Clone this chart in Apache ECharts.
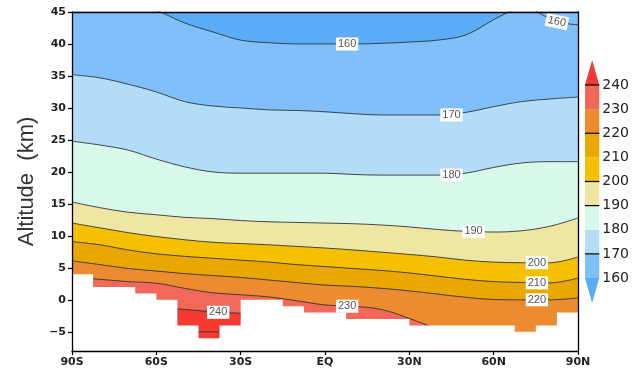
<!DOCTYPE html>
<html><head><meta charset="utf-8">
<script src="https://cdn.jsdelivr.net/npm/echarts@6/dist/echarts.min.js"></script>
<style>html,body{margin:0;padding:0;background:#fff}#c{width:632px;height:369px}</style>
</head><body><div id="c"></div>
<script>
// ---- data ----
const lats = [-90,-80,-70,-60,-50,-40,-30,-20,-10,0,10,20,30,40,50,60,70,80,90];
const c160 = [49,48.5,47,45.3,43.3,41.9,40.6,40.2,40.0,40.0,40.0,40.1,40.3,40.6,41.4,43.8,46,48,49];
const c170 = [35.2,34.7,33.7,32.5,31.0,30.3,30.0,29.7,29.6,29.4,29.1,28.9,28.9,28.9,29.3,30.2,31.0,31.4,31.7];
const c180 = [24.8,24.2,23.4,22.0,20.8,20.0,19.8,19.8,19.8,19.8,19.6,19.5,19.5,19.5,19.8,20.7,21.4,21.6,21.6];
const c190 = [15.3,14.4,13.7,13.3,12.9,12.7,12.4,12.2,12.1,12.0,11.9,11.7,11.4,11.0,10.7,10.6,10.8,11.5,12.8];
const c200 = [12.0,11.25,10.5,9.9,9.4,9.0,8.8,8.6,8.35,8.1,7.8,7.45,7.1,6.7,6.2,5.9,5.8,5.8,6.7];
const c210 = [9.1,8.6,7.8,7.2,6.8,6.5,6.2,5.9,5.5,5.2,4.9,4.6,4.2,3.7,3.2,2.85,2.7,2.65,3.4];
const c220 = [6.1,5.5,4.9,4.5,4.1,3.8,3.5,3.1,2.7,2.3,2.1,1.8,1.4,0.9,0.4,0.05,0,0,0.3];
const c230 = [3.5,3.2,2.85,2.6,1.8,1.1,0.8,0.45,-0.15,-0.8,-1.0,-1.5,-2.9,-4.6,-6.5,-8,-9,-9,-9];
// second (north-polar) 160 K segment
const c160bLat = [74,82.5,90];
const c160b = [45.4,43.5,43.0];
// 240 K contour (southern pocket)
const c240Lat = [-90,-54,-52.5,-38,-30,-28,90];
const c240 = [-12,-12,-1.4,-1.95,-2.1,-12,-12];
// 250 K segment
const c250Lat = [-45,-37.5];
const c250 = [-5,-5];
// bottom of data (stepped surface)
const groundLat = [-90,-82.5,-67.5,-60,-52.5,-45,-37.5,-30,-15,-7.5,7.5,30,67.5,75,82.5,90];
const groundAlt = [4,2,1,0,-4,-6,-4,0,-1,-2,-3,-4,-5,-4,-2,-2];
const levels = [160,170,180,190,200,210,220,230];
const xTickLabels = ['90S','60S','30S','EQ','30N','60N','90N'];
const yTickValues = [-5,0,5,10,15,20,25,30,35,40,45];
const cbLabels = ['160','170','180','190','200','210','220','230','240'];
const cbLines = [1,3,4,6,8];

// ---- styles ----
const bandColors = ['#5aacf6','#80c0fa','#b3dcf8','#d8f8ea','#efe6a3','#f5c000','#e9a700','#ec8b2f','#f2695a','#f53a32'];
const labelCfg = {160:[10,-6],170:[13,14],180:[13,14],190:[14,8],200:[17,-13],210:[17,-13],220:[17,-13],230:[10,-6]};
const lineCol = '#333';
const labelStyle = {position:'inside', backgroundColor:'#fff', padding:[1,2], color:'#555', fontSize:11, fontFamily:'Liberation Sans'};

const contours = [c160,c170,c180,c190,c200,c210,c220,c230];
const series = [];
contours.forEach((arr,k)=>{
  const L = levels[k];
  const [li, dx] = labelCfg[L];
  series.push({
    type:'line', xAxisIndex:0, yAxisIndex:0, z:2, silent:true,
    smooth:0.35, symbol:'circle', symbolSize:0, showSymbol:true,
    data: lats.map((la,i)=> i===li ? {value:[la,arr[i]], label:{show:true}} : [la,arr[i]]),
    lineStyle:{color:lineCol, width:0.9},
    areaStyle:{color:bandColors[k+1], opacity:1, origin:'start'},
    label:Object.assign({show:false, formatter:String(L), offset:[dx,0]}, labelStyle)
  });
});
series.push({
  type:'line', xAxisIndex:0, yAxisIndex:0, z:2, silent:true,
  symbol:'circle', symbolSize:0, showSymbol:true,
  data: c240Lat.map((la,i)=> i===3 ? {value:[la,c240[i]], label:{show:true}} : [la,c240[i]]),
  lineStyle:{color:lineCol, width:0.9},
  areaStyle:{color:bandColors[9], opacity:1, origin:'start'},
  label:Object.assign({show:false, formatter:'240'}, labelStyle)
});
series.push({
  type:'line', xAxisIndex:0, yAxisIndex:0, z:3, silent:true, showSymbol:false,
  data: c250Lat.map((la,i)=>[la,c250[i]]),
  lineStyle:{color:lineCol, width:0.9}
});
series.push({
  type:'line', xAxisIndex:0, yAxisIndex:0, z:3, silent:true, smooth:0.35,
  symbol:'circle', symbolSize:0, showSymbol:true,
  data: c160bLat.map((la,i)=> i===1 ? {value:[la,c160b[i]], label:{show:true}} : [la,c160b[i]]),
  lineStyle:{color:lineCol, width:0.9},
  label:Object.assign({show:false, formatter:'160', rotate:-12}, labelStyle)
});
// surface mask
series.push({
  type:'line', xAxisIndex:0, yAxisIndex:0, z:5, silent:true, step:'end', showSymbol:false,
  data: groundLat.map((la,i)=>[la,groundAlt[i]]),
  lineStyle:{width:0, color:'#fff'},
  areaStyle:{color:'#fff', opacity:1, origin:'start'}
});
// colorbar
const cbColors = bandColors.slice(1,9);
series.push({
  type:'custom', xAxisIndex:2, yAxisIndex:2, silent:true,
  data: cbColors.map((c,i)=>[0,i]),
  renderItem:(p,api)=>{
    const i=api.value(1), a=api.coord([0,i]), b=api.coord([0,i+1]), w=api.size([1,0])[0];
    return {type:'rect', shape:{x:a[0]-w/2, y:b[1], width:w, height:a[1]-b[1]}, style:{fill:cbColors[i]}};
  }
});
series.push({
  type:'custom', xAxisIndex:2, yAxisIndex:2, silent:true,
  data: [[0,8,1],[0,0,-1]],
  renderItem:(p,api)=>{
    const v=api.value(1), d=api.value(2), a=api.coord([0,v]), w=api.size([1,0])[0];
    return {type:'polygon', shape:{points:[[a[0]-w/2,a[1]],[a[0]+w/2,a[1]],[a[0],a[1]-d*25]]},
      style:{fill: d>0 ? bandColors[9] : bandColors[0]}};
  }
});
series.push({
  type:'custom', xAxisIndex:2, yAxisIndex:2, silent:true, z:4,
  data: cbLines.map(v=>[0,v]),
  renderItem:(p,api)=>{
    const a=api.coord([0,api.value(1)]), w=api.size([1,0])[0];
    return {type:'line', shape:{x1:a[0]-w/2, y1:a[1], x2:a[0]+w/2, y2:a[1]}, style:{stroke:'#000', lineWidth:1.2}};
  }
});

const tickFont = {fontFamily:'DejaVu Sans', fontWeight:'bold', fontSize:11, color:'#222'};
const option = {
  animation:false,
  backgroundColor:'#fff',
  grid:[
    {left:72, top:12, width:506, height:339, show:true, backgroundColor:bandColors[0], borderWidth:0},
    {left:585, top:85, width:15.5, height:193}
  ],
  xAxis:[
    {type:'value', gridIndex:0, min:-90, max:90, interval:30, position:'bottom', z:10,
     axisLine:{onZero:false, lineStyle:{color:'#000', width:1.3}},
     axisTick:{length:4, lineStyle:{color:'#000', width:1.2}},
     axisLabel:Object.assign({margin:6, formatter:v=>xTickLabels[Math.round((v+90)/30)]}, tickFont),
     splitLine:{show:false}},
    {type:'value', gridIndex:0, min:-90, max:90, position:'top', z:10,
     axisLine:{onZero:false, lineStyle:{color:'#000', width:1.3}},
     axisTick:{show:false}, axisLabel:{show:false}, splitLine:{show:false}},
    {type:'category', gridIndex:1, data:['cb'], show:false, boundaryGap:true}
  ],
  yAxis:[
    {type:'value', gridIndex:0, min:-8, max:45, position:'left', z:10,
     name:'Altitude  (km)', nameLocation:'middle', nameGap:34,
     nameTextStyle:{fontSize:22, color:'#333', fontFamily:'Liberation Sans'},
     axisLine:{onZero:false, lineStyle:{color:'#000', width:1.3}},
     axisTick:{length:4, customValues:yTickValues, lineStyle:{color:'#000', width:1.2}},
     axisLabel:Object.assign({margin:6, customValues:yTickValues, formatter:v=> v<0 ? '\u2212'+Math.abs(v) : String(v)}, tickFont),
     splitLine:{show:false}},
    {type:'value', gridIndex:0, min:-8, max:45, position:'right', z:10,
     axisLine:{onZero:false, lineStyle:{color:'#000', width:1.3}},
     axisTick:{show:false}, axisLabel:{show:false}, splitLine:{show:false}},
    {type:'value', gridIndex:1, min:0, max:8, interval:1, position:'right', z:10,
     axisLine:{onZero:false, lineStyle:{color:'#000', width:1.3}},
     axisTick:{show:false}, splitLine:{show:false},
     axisLabel:{margin:3, formatter:v=>cbLabels[Math.round(v)], fontFamily:'DejaVu Sans', fontSize:14, color:'#222'}}
  ],
  series: series
};
const chart = echarts.init(document.getElementById('c'), null, {renderer:'canvas'});
chart.setOption(option);
</script>
</body></html>
